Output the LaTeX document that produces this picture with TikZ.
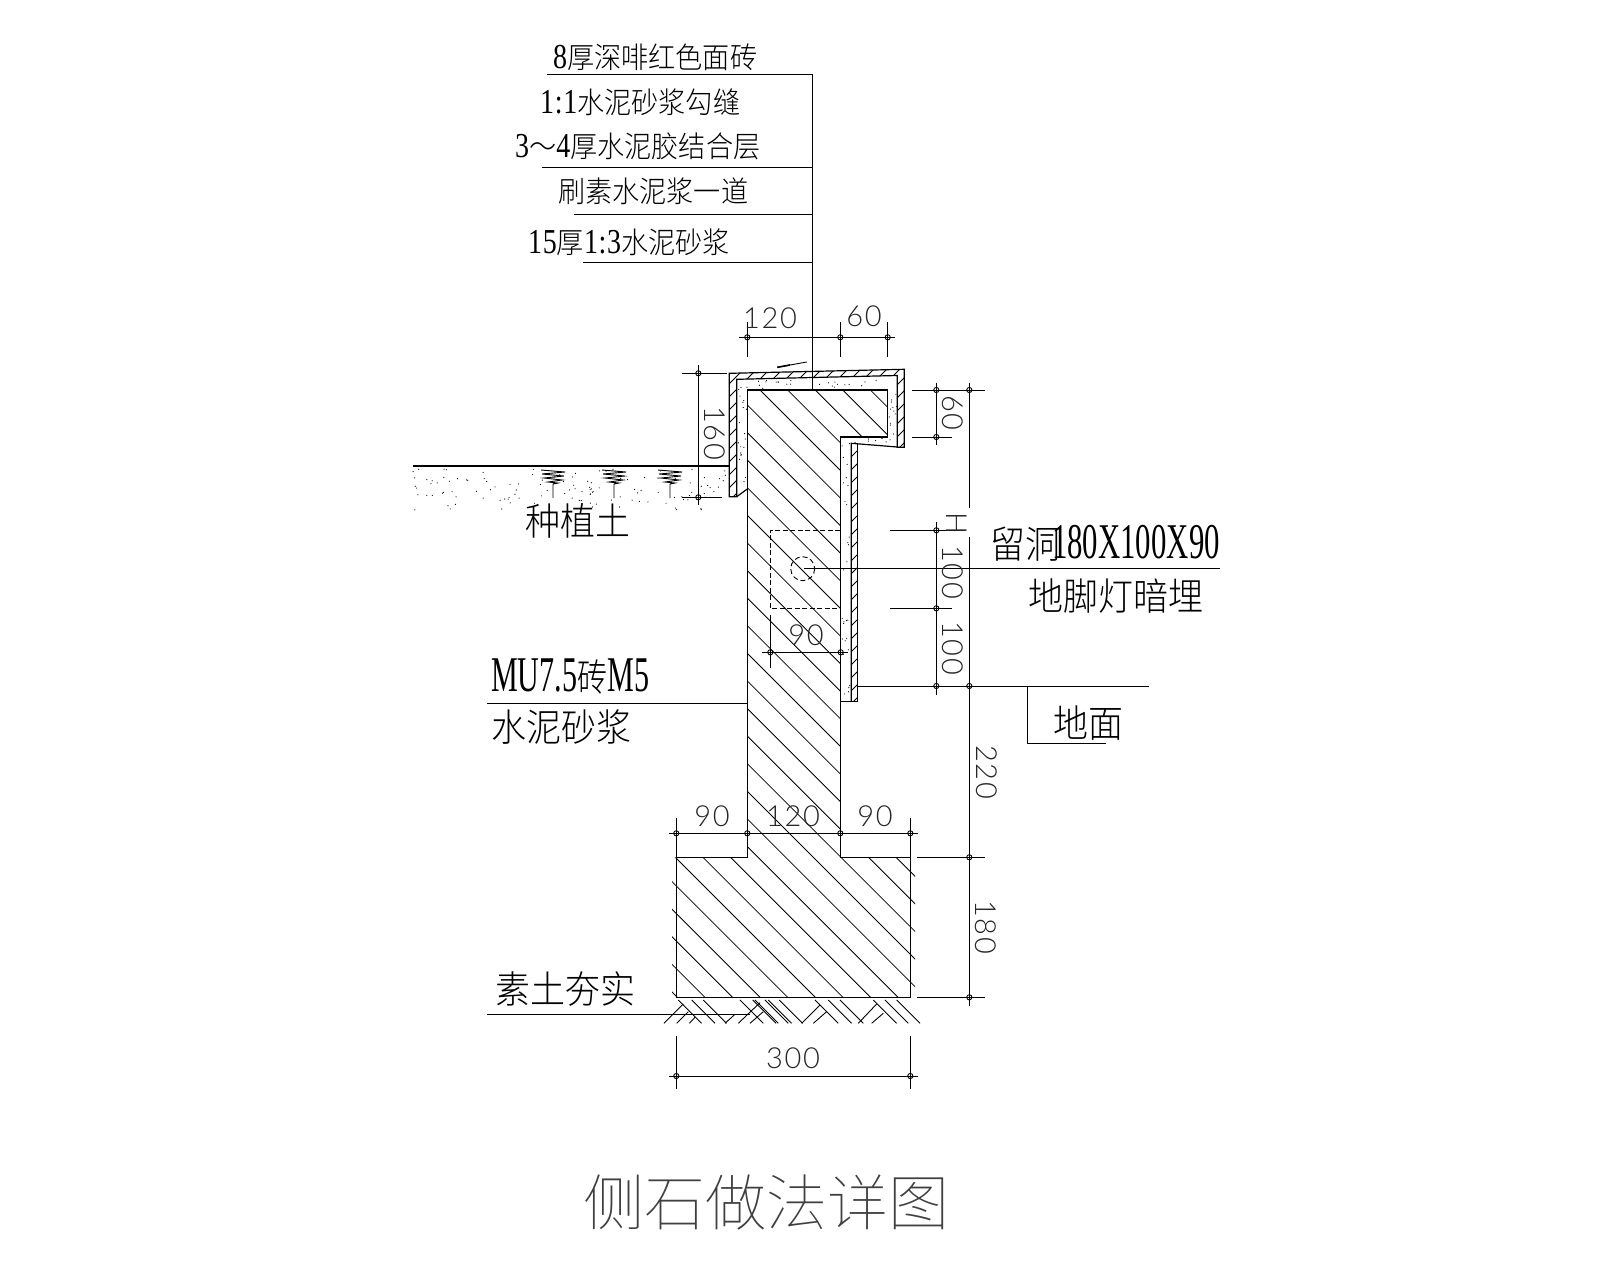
\documentclass[tikz,border=0pt]{standalone}
\usepackage{fontspec}
\usepackage{graphicx}
\newfontfamily\cjkfont[FakeStretch=.92]{Noto Sans CJK SC Light}
\newfontfamily\cjktitle{Noto Sans CJK SC Thin}
\newfontfamily\serfont[FakeStretch=.7]{Liberation Serif}
\newfontfamily\serwide[FakeStretch=.8,LetterSpace=2]{Liberation Serif}
\newfontfamily\numfont[LetterSpace=6]{Lato Light}
\newcommand\fs[1]{\fontsize{#1}{#1}\selectfont}
\newcommand\cjs[1]{{\cjkfont\fs{29.5}#1}}
\newcommand\ses[1]{{\serwide\fs{35}#1}}
\newcommand\cjb[1]{{\cjkfont\fs{38}#1}}
\newcommand\seb[1]{{\serfont\fs{50}#1}}
\newcommand\tk[2]{\draw[thin line] (#1,#2) circle (2.6);}
\tikzset{
  thin line/.style={line width=.9pt,black},
  main line/.style={line width=1.2pt,black},
  hatch line/.style={line width=.8pt,black},
  lbl/.style={inner sep=0,anchor=base west,black},
  num/.style={inner sep=0,anchor=center,font=\numfont\fs{29},text=black!85},
}
\begin{document}
\begin{tikzpicture}[x=1pt,y=-1pt]
\useasboundingbox (0,0) rectangle (1600,1280);
\fill[white] (0,0) rectangle (1600,1280);

% --- brick hatch
\begin{scope}
\clip (747.3,390) -- (887.7,390) -- (887.7,437) -- (840.3,437) -- (840.3,857.3) -- (915,857.3) -- (915,997.3) -- (672,997.3) -- (672,857.3) -- (747.3,857.3) -- cycle;
\foreach \k in {-5,...,26}{
  \pgfmathsetmacro\c{370-27.6*\k}
  \draw[hatch line] (380+\c,380) -- (1000+\c,1000);
}
\end{scope}
\draw[main line,line join=miter] (747.3,390) -- (887.7,390) -- (887.7,437) -- (840.3,437) -- (840.3,857.3) -- (910.3,857.3) -- (910.3,997.3) -- (676.3,997.3) -- (676.3,857.3) -- (747.3,857.3) -- cycle;

% --- tile band hatch
\begin{scope}
\clip (729.3,373.3) -- (904.3,369.3) -- (904.3,447.3) -- (897.3,447.3) -- (897.3,375.5) -- (736.7,379.3) -- (736.7,496.7) -- (729.3,496.7) -- cycle;
\foreach \k in {0,...,20}{
  \pgfmathsetmacro\c{1100+13*\k}
  \draw[hatch line] (\c-300,300) -- (\c-500,500);
}
\end{scope}
\begin{scope}
\clip (851.3,443.3) rectangle (857.7,701.3);
\foreach \k in {0,...,22}{\draw[hatch line] (845,450+13*\k) -- ++(20,-20);}
\end{scope}
\draw[main line] (729.3,373.3) -- (904.3,369.3) -- (904.3,447.3) -- (897.3,447.3) -- (897.3,375.5) -- (736.7,379.3) -- (736.7,496.7) -- (729.3,496.7) -- cycle;
\draw[main line] (736.7,496.7) -- (747.3,489);
\draw[main line] (897.3,447) -- (851.3,443.3) -- (851.3,701.3);
\draw[main line] (851.3,443.3) -- (857.7,443.3) -- (857.7,701.3) -- (840.3,701.3);

% --- mortar stipple
\pgfmathsetseed{11}
\foreach \i in {1,...,18}{\pgfmathsetmacro\a{738+9*rnd}\pgfmathsetmacro\b{382+105*rnd}\fill (\a,\b) circle (.6);}
\foreach \i in {1,...,24}{\pgfmathsetmacro\a{740+155*rnd}\pgfmathsetmacro\b{380+9*rnd}\fill (\a,\b) circle (.6);}
\foreach \i in {1,...,12}{\pgfmathsetmacro\a{889+8*rnd}\pgfmathsetmacro\b{392+52*rnd}\fill (\a,\b) circle (.6);}
\foreach \i in {1,...,8}{\pgfmathsetmacro\a{855+40*rnd}\pgfmathsetmacro\b{438+5*rnd}\fill (\a,\b) circle (.6);}
\foreach \i in {1,...,28}{\pgfmathsetmacro\a{842+8*rnd}\pgfmathsetmacro\b{442+256*rnd}\fill (\a,\b) circle (.6);}

% --- planting soil
\draw[main line] (413,466) -- (729.3,466);
\foreach \i in {1,...,125}{\pgfmathsetmacro\a{413+315*rnd}\pgfmathsetmacro\b{469+41*rnd}\fill (\a,\b) circle (.6);}
\foreach \g in {553,614,670}{
  \draw[thin line] (\g-12,470) -- (\g+12,472) -- (\g-11,474) -- (\g+11,476) -- (\g-9,478) -- (\g+9,480) -- (\g-5,482) -- (\g+5,483) -- (\g,484) -- (\g,498);
}

% --- compacted earth
\begin{scope}[shift={(640,780)},x=.3333pt,y=-.3333pt]
\foreach \z in {115,155,190,300,338,345,375,385,418,525,565,600,700,735,770}{
  \draw[thin line] (\z,660) -- (\z+70,730);
}
\draw[thin line] (72,730) -- (130,672);
\draw[thin line] (110,730) -- (145,695);
\draw[thin line] (148,730) -- (165,712);
\draw[thin line] (255,730) -- (285,703);
\draw[thin line] (295,730) -- (360,668);
\draw[thin line] (330,730) -- (370,695);
\draw[thin line] (485,730) -- (540,675);
\draw[thin line] (520,730) -- (560,695);
\draw[thin line] (655,730) -- (710,672);
\draw[thin line] (695,730) -- (730,700);
\end{scope}

% --- niche for the lamp
\draw[thin line,dashed,dash pattern=on 5pt off 2.5pt] (840.3,530.3) -- (770.3,530.3) -- (770.3,608.3) -- (840.3,608.3);
\draw[thin line,dashed,dash pattern=on 5pt off 3pt] (802.7,568.7) circle (12);

% --- leaders
\draw[thin line] (547,74) -- (812,74);
\draw[thin line] (542,167) -- (812,167);
\draw[thin line] (574,214) -- (812,214);
\draw[thin line] (583,262) -- (812,262);
\draw[thin line] (812,74) -- (812,390);
\draw[thin line] (777.3,367.3) -- (806.7,362);
\draw[line width=1.6pt] (777.3,367.3) -- (790,365);
\draw[thin line] (804,568.7) -- (1220,568.7);
\draw[thin line] (487,703.3) -- (747.3,703.3);
\draw[thin line] (487,1014.3) -- (750,1014.3);
\draw[thin line] (857.7,686) -- (1149,686);
\draw[thin line] (1027.7,686) -- (1027.7,743) -- (1105.7,743);

% --- dimensions: top
\draw[thin line] (739,337.3) -- (895,337.3);
\foreach \x in {747.3,840.3,887.7}{\draw[thin line] (\x,322) -- (\x,357); \tk{\x}{337.3}}
% 160
\draw[thin line] (698.3,365) -- (698.3,505);
\draw[thin line] (682,373.3) -- (727,373.3);
\draw[thin line] (682,497.3) -- (722,497.3);
\tk{698.3}{373.3}\tk{698.3}{497.3}
% 60 / 100 / 100
\draw[thin line] (936.3,382.7) -- (936.3,445);
\draw[thin line] (912,390) -- (985,390);
\draw[thin line] (912,437) -- (952,437);
\tk{936.3}{390}\tk{936.3}{437}
\draw[thin line] (936.3,522) -- (936.3,695);
\draw[thin line] (890,530.3) -- (965,530.3);
\draw[thin line] (890,608.3) -- (952,608.3);
\tk{936.3}{530.3}\tk{936.3}{608.3}\tk{936.3}{686}
% long dimension
\draw[thin line] (969.3,382.7) -- (969.3,508);
\draw[thin line] (969.3,537) -- (969.3,1006);
\draw[thin line] (917,857.3) -- (985,857.3);
\draw[thin line] (917,997.3) -- (985,997.3);
\tk{969.3}{390}\tk{969.3}{686}\tk{969.3}{857.3}\tk{969.3}{997.3}
% 90 inside
\draw[thin line] (762,652.3) -- (848,652.3);
\draw[thin line] (770.3,615) -- (770.3,668);
\tk{770.3}{652.3}\tk{840.7}{652.3}
% footing
\draw[thin line] (669,833.3) -- (918,833.3);
\foreach \x in {676.3,910.3}{\draw[thin line] (\x,818) -- (\x,857.3);}
\foreach \x in {676.3,747.3,840.3,910.3}{\tk{\x}{833.3}}
% 300
\draw[thin line] (669,1076) -- (918,1076);
\foreach \x in {676.3,910.3}{\draw[thin line] (\x,1036) -- (\x,1089); \tk{\x}{1076}}

% --- dimension numbers
\node[num] (d120) at (770,318) {120};
\node[num] (d60a) at (864,316) {60};
\node[num,rotate=-90] (d160) at (715,433) {160};
\node[num,rotate=-90] (d60b) at (953,413) {60};
\node[num,rotate=-90] (dH) at (957,523) {H};
\node[num,rotate=-90] (d100a) at (953,572) {100};
\node[num,rotate=-90] (d100b) at (953,648) {100};
\node[num] (d90a) at (806,635) {90};
\node[num] (d90b) at (712,816) {90};
\node[num] (d120b) at (793,816) {120};
\node[num] (d90c) at (875,816) {90};
\node[num] (d300) at (793,1058) {300};
\node[num,rotate=-90] (d220) at (987,772) {220};
\node[num,rotate=-90] (d180) at (986,927) {180};

% --- texts
\node[lbl] (t1) at (553,68) {\ses{8}\cjs{厚深啡红色面砖}};
\node[lbl] (t2) at (540,113) {\ses{1:1}\cjs{水泥砂浆勾缝}};
\node[lbl] (t3) at (515,157) {\ses{3}\cjs{～}\ses{4}\cjs{厚水泥胶结合层}};
\node[lbl] (t4) at (558,202) {\cjs{刷素水泥浆一道}};
\node[lbl] (t5) at (528,253) {\ses{15}\cjs{厚}\ses{1:3}\cjs{水泥砂浆}};
\node[lbl] (t6) at (525,535) {\cjb{种植土}};
\node[lbl] (t7) at (990,558) {\cjb{留洞}\kern-8pt\scalebox{.88}[1]{\seb{180X100X90}}};
\node[lbl] (t8) at (1028,610) {\cjb{地脚灯暗埋}};
\node[lbl] (t9) at (1053,737) {\cjb{地面}};
\node[lbl] (t10) at (491,691) {\scalebox{.86}[1]{\seb{MU7.5}\cjb{砖}\seb{M5}}};
\node[lbl] (t11) at (491,741) {\cjb{水泥砂浆}};
\node[lbl] (t12) at (495,1003) {\cjb{素土夯实}};
\node[lbl,text=black!75] (t13) at (583,1225) {{\cjktitle\fs{61}侧石做法详图}};
\end{tikzpicture}
\end{document}
